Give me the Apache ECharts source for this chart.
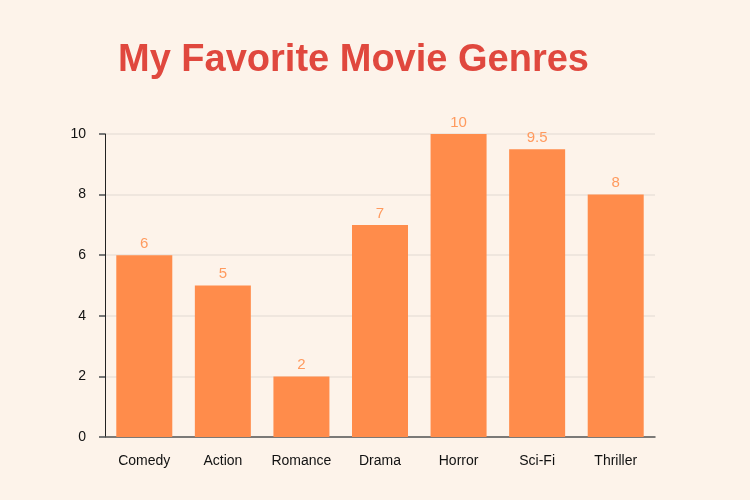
<!DOCTYPE html>
<html><head><meta charset="utf-8">
<style>html,body{margin:0;padding:0;background:#FDF3EA;}#c{width:750px;height:500px;}</style>
<script src="https://cdn.jsdelivr.net/npm/echarts@6/dist/echarts.min.js"></script>
</head><body><div id="c"></div>
<script>
const categories = ["Comedy","Action","Romance","Drama","Horror","Sci-Fi","Thriller"];
const values = [6,5,2,7,10,9.5,8];
const chart = echarts.init(document.getElementById('c'));
chart.setOption({
  backgroundColor: '#FDF3EA',
  title: {
    text: 'My Favorite Movie Genres',
    left: 113, top: 37,
    textStyle: {color: '#E0483E', fontSize: 38, fontWeight: 'bold', fontFamily: 'Liberation Sans'}
  },
  grid: {left: 105, right: 95, top: 134, bottom: 63},
  xAxis: {
    type: 'category', data: categories,
    axisLine: {lineStyle: {color: '#555', width: 1.5}},
    axisTick: {show: false},
    axisLabel: {color: '#111', fontSize: 14, fontFamily: 'Liberation Sans', margin: 17}
  },
  yAxis: {
    type: 'value', min: 0, max: 10, interval: 2,
    axisLine: {show: true, lineStyle: {color: '#222', width: 1}},
    axisTick: {show: true, length: 6, lineStyle: {color: '#777', width: 2}},
    splitLine: {lineStyle: {color: '#EFE6DE', width: 2}},
    axisLabel: {color: '#111', fontSize: 14, fontFamily: 'Liberation Sans', margin: 19}
  },
  series: [{
    type: 'bar', data: values, barWidth: 56,
    itemStyle: {color: '#FF8C4B'},
    label: {show: true, position: 'top', color: '#FF9A5E', fontSize: 15, fontFamily: 'Liberation Sans', distance: 4}
  }]
});
</script></body></html>
